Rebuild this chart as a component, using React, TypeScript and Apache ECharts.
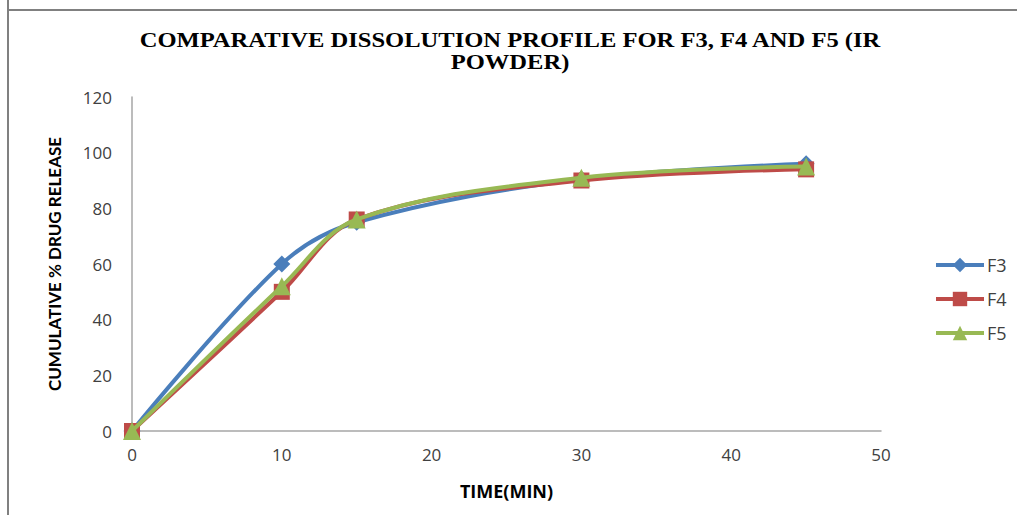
import React, { useEffect, useRef } from "react";
import * as echarts from "echarts";

const times = [0, 10, 15, 30, 45];
const f3 = [0, 60, 75, 90.5, 96];
const f4 = [0, 50, 76, 90, 94];
const f5 = [0, 52, 76, 91, 95];
const seriesNames = ["F3", "F4", "F5"];
const titleLines = ["COMPARATIVE DISSOLUTION PROFILE FOR F3, F4 AND F5 (IR", "POWDER)"];
const colors = ["#4A7EBB", "#BE4B48", "#98B954"];
const symbols = ["diamond", "rect", "triangle"];
const symbolSizes = [17, 16, 18];

export default function App() {
  const ref = useRef<HTMLDivElement>(null);
  useEffect(() => {
    if (!ref.current) return;
    const chart = echarts.init(ref.current, undefined, { renderer: "svg" });
    const all = [f3, f4, f5];
    chart.setOption({
      animation: false,
      backgroundColor: "#ffffff",
      graphic: [
        { type: "line", shape: { x1: 8, y1: 0, x2: 8, y2: 515 }, style: { stroke: "#808080", lineWidth: 2 } },
        { type: "line", shape: { x1: 7, y1: 10, x2: 1017, y2: 10 }, style: { stroke: "#808080", lineWidth: 2 } },
        ...titleLines.map((t, i) => ({
          type: "text",
          x: 510,
          y: 40 + i * 22,
          scaleX: 1.17,
          style: {
            text: t,
            x: 0,
            y: 0,
            align: "center",
            verticalAlign: "middle",
            fontFamily: "Liberation Serif",
            fontWeight: "bold",
            fontSize: 21,
            fill: "#000",
          },
        })),
      ],
      legend: {
        orient: "vertical",
        left: 929,
        top: 251,
        itemWidth: 48,
        itemHeight: 18,
        itemGap: 16,
        data: seriesNames,
        lineStyle: { width: 4 },
        textStyle: { fontFamily: "Open Sans", fontSize: 18, color: "#404040", padding: [0, 0, 0, -2] },
      },
      grid: { left: 132, right: 136, top: 97, bottom: 84, containLabel: false },
      xAxis: {
        type: "value",
        min: 0,
        max: 50,
        interval: 10,
        name: "TIME(MIN)",
        nameLocation: "middle",
        nameGap: 51,
        nameTextStyle: { fontFamily: "Open Sans", fontWeight: "bold", fontSize: 18, color: "#000" },
        axisLine: { lineStyle: { color: "#a6a6a6", width: 1.5 } },
        axisTick: { show: false },
        splitLine: { show: false },
        axisLabel: { fontFamily: "Open Sans", fontSize: 17, color: "#404040", margin: 15 },
      },
      yAxis: {
        type: "value",
        min: 0,
        max: 120,
        interval: 20,
        name: "CUMULATIVE % DRUG RELEASE",
        nameLocation: "middle",
        nameGap: 69,
        nameTextStyle: { fontFamily: "Lato", fontWeight: "bold", fontSize: 17, color: "#000" },
        axisLine: { show: true, lineStyle: { color: "#a6a6a6", width: 1.5 } },
        axisTick: { show: false },
        splitLine: { show: false },
        axisLabel: { fontFamily: "Open Sans", fontSize: 17, color: "#404040", margin: 20 },
      },
      series: seriesNames.map((name, i) => ({
        name,
        type: "line",
        smooth: 0.35,
        data: times.map((t, j) => [t, all[i][j]]),
        symbol: symbols[i],
        symbolSize: symbolSizes[i],
        showAllSymbol: true,
        lineStyle: { color: colors[i], width: 4 },
        itemStyle: { color: colors[i], borderWidth: 0 },
        z: 2 + i,
      })),
    });
    return () => chart.dispose();
  }, []);
  return (
    <div
      ref={ref}
      style={{ position: "fixed", left: 0, top: 0, width: 1017, height: 515 }}
    />
  );
}
